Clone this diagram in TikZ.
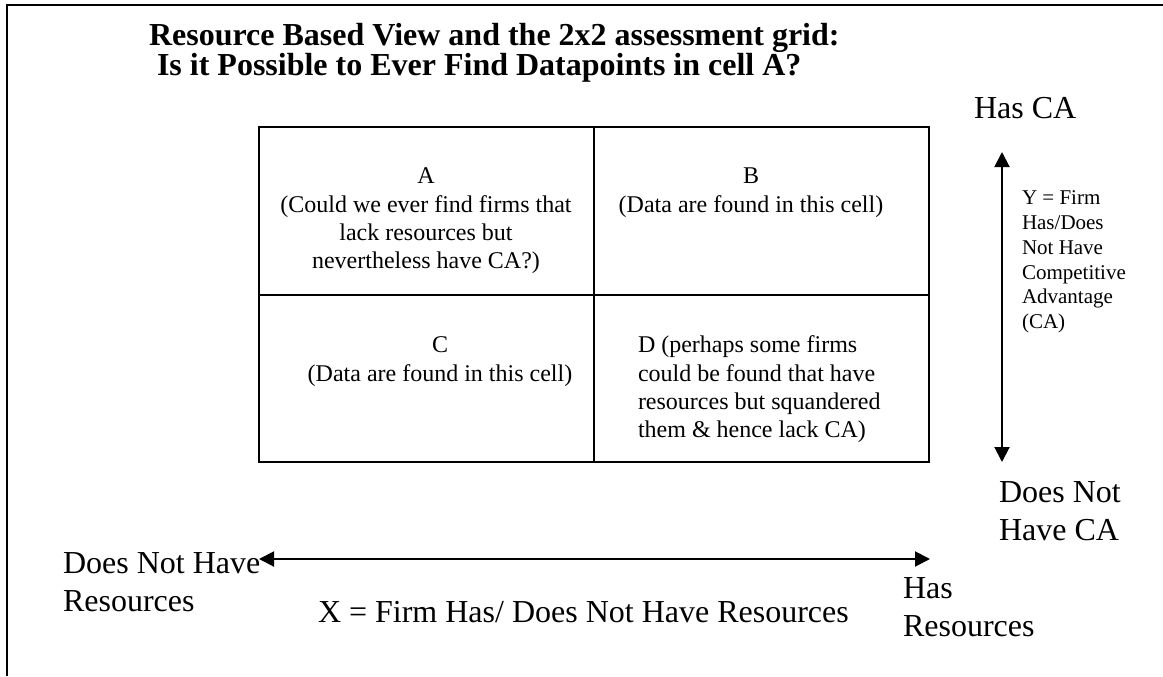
\documentclass[tikz,border=0pt]{standalone}
\usepackage{fontspec}
\setmainfont{Liberation Serif}
\usetikzlibrary{arrows.meta}

\begin{document}
\begin{tikzpicture}[x=0.5pt,y=-0.5pt,line width=1pt,
  >={Triangle[length=7.5pt,width=7.5pt]},
  cell/.style={inner sep=0pt,font=\fontsize{12}{14.15}\selectfont},
  axis/.style={inner sep=0pt,align=left,font=\fontsize{16}{19}\selectfont}]
\useasboundingbox (0,0) rectangle (1163,676);
\draw (7,676) -- (7,5) -- (1163,5);
\node[anchor=base west,inner sep=0pt,font=\fontsize{16}{19}\selectfont\bfseries] (title1) at (148,45) {Resource Based View and the 2x2 assessment grid:};
\node[anchor=base west,inner sep=0pt,font=\fontsize{16}{19}\selectfont\bfseries] (title2) at (156,75) {Is it Possible to Ever Find Datapoints in cell A?};
% the 2x2 grid
\draw (259,127) rectangle (929,462);
\draw (594,127) -- (594,462);
\draw (259,295) -- (929,295);
\node[cell,align=center,anchor=north] (A) at (426,167) {A\\(Could we ever find firms that\\lack resources but\\nevertheless have CA?)};
\node[cell,align=center,anchor=north] (B) at (751,167) {B\\(Data are found in this cell)};
\node[cell,align=center,anchor=north] (C) at (440,336) {C\\(Data are found in this cell)};
\node[cell,align=left,anchor=north west] (D) at (637,335) {D (perhaps some firms\\could be found that have\\resources but squandered\\them \& hence lack CA)};
% y axis
\coordinate (caTop) at (1002,152);
\coordinate (caBot) at (1002,462);
\draw [<->] (caTop) -- (caBot);
\node[anchor=base west,inner sep=0pt,font=\fontsize{16}{19}\selectfont] (hasCA) at (973,118) {Has CA};
\node[axis,anchor=north west] (noCA) at (998,481) {Does Not\\Have CA};
\node[inner sep=0pt,align=left,anchor=north west,font=\fontsize{10.5}{12.35}\selectfont] (ylab) at (1021,190) {Y = Firm\\Has/Does\\Not Have\\Competitive\\Advantage\\(CA)};
% x axis
\coordinate (resLeft) at (259,559);
\coordinate (resRight) at (930,559);
\draw [<->] (resLeft) -- (resRight);
\node[axis,anchor=north west] (noRes) at (62,552) {Does Not Have\\Resources};
\node[axis,anchor=north west] (hasRes) at (902,577) {Has\\Resources};
\node[anchor=base west,inner sep=0pt,font=\fontsize{16}{19}\selectfont] (xlab) at (317,622) {X = Firm Has/ Does Not Have Resources};
\end{tikzpicture}
\end{document}
